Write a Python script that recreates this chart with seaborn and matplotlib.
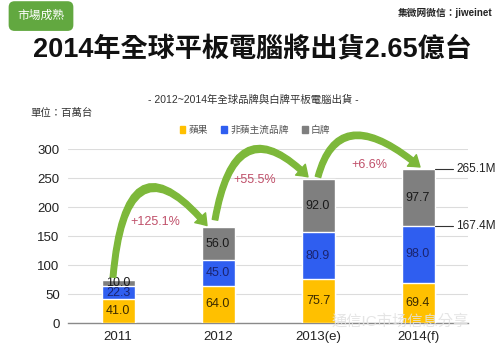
import seaborn as sns
import pandas as pd
import matplotlib.pyplot as plt
import numpy as np

# Data (millions of units)
years = ["2011", "2012", "2013(e)", "2014(f)"]
apple = [41.0, 64.0, 75.7, 69.4]
brand = [22.3, 45.0, 80.9, 98.0]
white = [10.0, 56.0, 92.0, 97.7]
growth = ["+125.1%", "+55.5%", "+6.6%"]
series_names = ["蘋果", "非蘋主流品牌", "白牌"]
colors = ["#FFC000", "#2F5EF0", "#7F7F7F"]
text_colors = ["#3a2a00", "#1a2470", "#1a1a1a"]

df = pd.DataFrame({"year": years, "apple": apple, "brand": brand, "white": white})
df["c1"] = df["apple"]
df["c2"] = df["apple"] + df["brand"]
df["c3"] = df["c2"] + df["white"]

sns.set_style("white")
plt.rcParams['font.family'] = ['Liberation Sans', 'Noto Sans CJK TC', 'DejaVu Sans']

fig = plt.figure(figsize=(5, 3.57), dpi=100)
ax = fig.add_axes([0.136, 0.0952, 0.8, 0.4874])

# stacked bars: draw cumulative totals from the top down
for col, c, name in zip(["c3", "c2", "c1"], colors[::-1], series_names[::-1]):
    sns.barplot(data=df, x="year", y=col, color=c, width=0.33, saturation=1,
                ax=ax, label=name, zorder=3)

ax.set_ylim(0, 300)
ax.set_yticks(np.arange(0, 301, 50))
ax.set_xlim(-0.5, 3.5)
ax.set_xlabel("")
ax.set_ylabel("")
ax.grid(axis="y", color="#DCDCDC", linewidth=0.8, zorder=0)
for s in ["top", "right", "left"]:
    ax.spines[s].set_visible(False)
ax.spines["bottom"].set_color("#8a8a8a")
ax.spines["bottom"].set_linewidth(1.0)
ax.tick_params(axis="both", length=0, labelsize=9.5, colors="#222222", pad=6)
if ax.legend_:
    ax.legend_.remove()

# value labels
for i in range(len(years)):
    bottoms = [0, df["c1"][i], df["c2"][i]]
    for vals, b, tc in zip([apple, brand, white], bottoms, text_colors):
        ax.text(i, b + vals[i] / 2, f"{vals[i]:.1f}", ha="center", va="center",
                fontsize=9, color=tc, zorder=5)

# growth arrows (start, tip, leaving angle, arriving angle)
arrows = [((-0.05, 79), (0.89, 168), 85, -50),
          ((0.97, 178), (1.9, 252), 80, -45),
          ((2.0, 252), (3.02, 269), 75, -40)]
for s, e, a1, a2 in arrows:
    ax.annotate("", xy=e, xytext=s, annotation_clip=False, zorder=6,
                arrowprops=dict(arrowstyle="simple,head_length=0.75,head_width=1.05,tail_width=0.4",
                                connectionstyle=f"angle3,angleA={a1},angleB={a2}",
                                color="#7DB83A", mutation_scale=10, shrinkA=0, shrinkB=0))
growth_pos = [(0.37, 174), (1.37, 247), (2.51, 272)]
for g, (gx, gy) in zip(growth, growth_pos):
    ax.text(gx, gy, g, ha="center", va="center", fontsize=9, color="#C0506A", zorder=7)

# right side totals
for v in [df["c3"][3], df["c2"][3]]:
    ax.plot([3.165, 3.35], [v, v], color="#333333", linewidth=0.8, clip_on=False, zorder=4)
    ax.text(3.38, v, f"{v:.1f}M", ha="left", va="center", fontsize=8.5,
            color="#222222", clip_on=False)

# legend
handles = [plt.Rectangle((0, 0), 1, 1, color=c) for c in colors]
fig.legend(handles, series_names, loc="center", bbox_to_anchor=(0.51, 0.636), ncol=3,
           frameon=False, fontsize=7, handlelength=0.6, handleheight=0.6,
           handletextpad=0.3, columnspacing=1.4, labelcolor="#555555")

# header texts
fig.text(0.082, 0.955, "市場成熟", ha="center", va="center", fontsize=8.5, color="white",
         bbox=dict(boxstyle="round,pad=0.75,rounding_size=0.5", fc="#62A840", ec="none"))
fig.text(0.985, 0.963, "集微网微信：jiweinet", ha="right", va="center", fontsize=7,
         color="#222222", fontweight="bold")
fig.text(0.505, 0.86, "2014年全球平板電腦將出貨2.65億台", ha="center", va="center",
         fontsize=19.5, fontweight="bold", color="#111111")
fig.text(0.506, 0.72, "- 2012~2014年全球品牌與白牌平板電腦出貨 -", ha="center", va="center",
         fontsize=7.5, color="#333333")
fig.text(0.06, 0.683, "單位：百萬台", ha="left", va="center", fontsize=7.5, color="#333333")

# watermark
fig.text(0.8, 0.1, "通信IC市场信息分享", ha="center", va="center", fontsize=11,
         color="#E2E2E2", alpha=0.9, zorder=10)

fig.savefig("out.png", dpi=100, facecolor="white")
